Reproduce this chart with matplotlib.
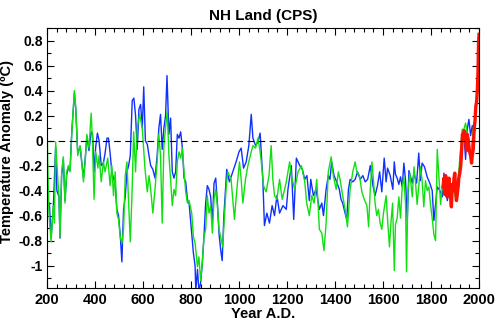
import matplotlib
matplotlib.use('Agg')
import matplotlib.pyplot as plt
from matplotlib.ticker import MultipleLocator, FuncFormatter

# green reconstruction
green_years = [200, 203, 208, 217, 226, 231, 236, 245, 250, 254, 261, 268, 275, 282, 289, 296,
               303, 314, 320, 328, 338, 345, 352, 359, 366, 375, 384, 389, 396, 403, 412, 417,
               426, 435, 442, 453, 463, 470, 477, 484, 491, 498, 505, 512, 519, 526, 533, 540,
               547, 554, 561, 569, 576, 586, 597, 608, 618, 625, 632, 641, 650, 659, 666, 673,
               680, 687, 694, 701, 708, 715, 722, 729, 736, 743, 750, 757, 764, 771, 778, 785,
               792, 803, 810, 817, 827, 833, 840, 847, 854, 861, 868, 875, 882, 889, 896, 903,
               910, 917, 932, 946, 953, 967, 981, 991, 1002, 1009, 1016, 1027, 1037, 1047, 1058,
               1069, 1079, 1086, 1093, 1102, 1113, 1125, 1134, 1141, 1148, 1158, 1169, 1180,
               1190, 1197, 1211, 1218, 1232, 1246, 1260, 1274, 1282, 1293, 1303, 1313, 1324,
               1335, 1345, 1354, 1363, 1372, 1384, 1393, 1405, 1414, 1421, 1432, 1442, 1452,
               1463, 1474, 1484, 1491, 1502, 1512, 1522, 1533, 1540, 1547, 1554, 1560, 1567,
               1574, 1581, 1588, 1595, 1602, 1613, 1620, 1627, 1633, 1640, 1647, 1652, 1659,
               1666, 1673, 1680, 1687, 1694, 1698, 1704, 1712, 1722, 1729, 1735, 1742, 1749,
               1756, 1763, 1770, 1777, 1784, 1791, 1798, 1805, 1812, 1819, 1826, 1833, 1840,
               1847, 1854, 1861, 1868, 1875, 1882, 1889, 1896, 1903, 1910, 1916, 1923, 1930,
               1937, 1944, 1951, 1958, 1965, 1972, 1979, 1986]
green_vals = [0.20, -0.17, -0.58, -0.81, -0.52, -0.66, -0.01, -0.31, -0.44, -0.77, -0.25, -0.13,
              -0.50, -0.25, -0.20, -0.25, 0.05, 0.40, 0.26, -0.12, -0.04, -0.17, -0.33, -0.17,
              0.05, -0.06, 0.22, 0.02, -0.47, -0.09, -0.22, -0.12, -0.33, -0.17, -0.25, -0.14,
              -0.36, -0.20, -0.44, -0.25, -0.58, -0.63, -0.77, -0.82, -0.71, -0.28, -0.17, -0.50,
              -0.81, -0.44, 0.07, -0.25, 0.10, 0.21, 0.10, -0.22, -0.41, -0.28, -0.39, -0.58,
              -0.39, -0.17, 0.05, -0.12, -0.66, -0.04, 0.10, 0.24, -0.12, -0.31, -0.52, -0.39,
              -0.44, -0.17, -0.09, -0.14, -0.06, -0.25, -0.41, -0.50, -0.48, -0.58, -0.77, -0.82,
              -1.01, -0.93, -1.12, -0.98, -0.77, -0.71, -0.44, -0.58, -0.52, -0.74, -0.47, -0.39,
              -0.52, -0.71, -0.85, -0.39, -0.25, -0.31, -0.63, -0.39, -0.17, -0.31, -0.50, -0.31,
              -0.20, -0.12, -0.04, -0.06, 0.02, -0.06, -0.17, -0.36, -0.41, -0.28, -0.04, -0.31,
              -0.44, -0.47, -0.31, -0.47, -0.39, -0.33, -0.17, -0.28, -0.39, -0.25, -0.20, -0.33,
              -0.50, -0.60, -0.44, -0.50, -0.31, -0.71, -0.74, -0.88, -0.66, -0.25, -0.13, -0.28,
              -0.39, -0.25, -0.31, -0.44, -0.55, -0.69, -0.39, -0.25, -0.17, -0.25, -0.28, -0.41,
              -0.47, -0.52, -0.69, -0.39, -0.17, -0.31, -0.50, -0.60, -0.55, -0.66, -0.71, -0.58,
              -0.44, -0.66, -0.85, -0.66, -0.50, -1.04, -0.67, -0.62, -0.45, -0.62, -0.37, -0.29,
              -0.51, -1.05, -0.40, -0.26, -0.45, -0.21, -0.32, -0.51, -0.37, -0.21, -0.32, -0.53,
              -0.32, -0.40, -0.37, -0.51, -0.62, -0.75, -0.80, -0.07, -0.29, -0.51, -0.37, -0.29,
              -0.45, -0.37, -0.40, -0.51, -0.40, -0.37, -0.48, -0.40, -0.24, -0.07, 0.09, 0.09,
              0.14, 0.06, -0.05, -0.13, 0.01, 0.14, 0.08]

# blue reconstruction
blue_years = [210, 217, 226, 236, 241, 250, 254, 261, 268, 275, 282, 289, 296, 303, 314, 320,
              328, 338, 345, 352, 359, 366, 375, 384, 390, 396, 403, 410, 417, 426, 435, 442,
              450, 456, 463, 470, 477, 484, 491, 498, 505, 512, 519, 526, 533, 540, 547, 555,
              562, 569, 576, 583, 590, 597, 603, 610, 618, 625, 632, 641, 650, 659, 666, 673,
              680, 687, 694, 700, 708, 715, 722, 729, 736, 743, 750, 757, 764, 771, 778, 785,
              792, 803, 810, 817, 820, 827, 833, 840, 847, 854, 861, 868, 875, 882, 889, 896,
              903, 910, 917, 924, 930, 937, 949, 960, 974, 988, 1000, 1009, 1019, 1030, 1041,
              1051, 1058, 1069, 1079, 1088, 1099, 1106, 1116, 1127, 1138, 1148, 1158, 1169,
              1183, 1197, 1204, 1218, 1228, 1239, 1253, 1264, 1274, 1283, 1293, 1299, 1310,
              1321, 1335, 1345, 1352, 1363, 1372, 1379, 1386, 1396, 1407, 1418, 1425, 1432,
              1442, 1449, 1456, 1463, 1474, 1484, 1494, 1505, 1516, 1526, 1536, 1547, 1558,
              1567, 1577, 1586, 1595, 1605, 1613, 1619, 1630, 1641, 1647, 1652, 1659, 1666,
              1673, 1680, 1687, 1694, 1701, 1708, 1715, 1722, 1729, 1740, 1749, 1756, 1763,
              1773, 1784, 1795, 1805, 1812, 1819, 1826, 1837, 1847, 1854, 1861, 1868, 1875,
              1885, 1893, 1901, 1910, 1916, 1923, 1930, 1937, 1944, 1951, 1958, 1965, 1972,
              1979, 1984]
blue_vals = [-0.50, -0.78, -0.55, -0.05, -0.40, -0.45, -0.78, -0.28, -0.15, -0.48, -0.27, -0.22,
             -0.24, 0.06, 0.38, 0.25, -0.10, -0.05, -0.18, -0.30, -0.15, 0.03, -0.08, 0.07,
             0.05, -0.25, -0.05, 0.06, 0.00, -0.20, -0.18, -0.10, 0.02, 0.02, -0.10, -0.25,
             -0.30, -0.35, -0.55, -0.60, -0.75, -0.97, -0.55, -0.45, -0.25, -0.20, -0.12, 0.32,
             0.34, 0.20, -0.07, 0.25, 0.29, 0.10, 0.43, 0.00, -0.03, -0.12, -0.20, -0.23,
             -0.30, -0.12, 0.10, 0.21, -0.07, 0.10, 0.20, 0.52, 0.05, 0.18, -0.25, -0.30,
             -0.25, 0.05, 0.02, 0.07, -0.06, -0.30, -0.33, -0.47, -0.50, -0.75, -0.90, -1.00,
             -1.20, -1.03, -1.20, -1.14, -0.98, -0.77, -0.50, -0.36, -0.39, -0.45, -0.66, -0.34,
             -0.30, -0.50, -0.75, -0.88, -0.96, -0.60, -0.23, -0.33, -0.25, -0.17, -0.09, -0.06,
             -0.22, -0.17, -0.04, 0.21, 0.02, -0.04, -0.01, 0.06, -0.30, -0.68, -0.58, -0.66,
             -0.52, -0.60, -0.44, -0.58, -0.52, -0.55, -0.39, -0.20, -0.63, -0.14, -0.20, -0.23,
             -0.31, -0.28, -0.48, -0.31, -0.44, -0.39, -0.55, -0.50, -0.60, -0.39, -0.28, -0.31,
             -0.17, -0.28, -0.33, -0.39, -0.47, -0.50, -0.58, -0.63, -0.39, -0.31, -0.33, -0.31,
             -0.25, -0.31, -0.28, -0.33, -0.31, -0.20, -0.36, -0.44, -0.36, -0.25, -0.41, -0.14,
             -0.33, -0.22, -0.28, -0.39, -0.17, -0.27, -0.30, -0.35, -0.29, -0.37, -0.18, -0.32,
             -0.64, -0.24, -0.29, -0.34, -0.26, -0.34, -0.10, -0.32, -0.18, -0.21, -0.29, -0.34,
             -0.40, -0.64, -0.51, -0.37, -0.40, -0.45, -0.26, -0.37, -0.48, -0.40, -0.45, -0.37,
             -0.43, -0.45, -0.34, -0.18, -0.02, 0.06, -0.15, 0.09, 0.17, 0.04, 0.12, 0.06, 0.18]

# instrumental (red)
red_years = [1850, 1854, 1857, 1861, 1864, 1868, 1871, 1875, 1878, 1882, 1885, 1889, 1892, 1896,
             1899, 1903, 1906, 1910, 1913, 1916, 1920, 1924, 1927, 1931, 1934, 1938, 1941, 1945,
             1948, 1951, 1955, 1958, 1962, 1965, 1969, 1972, 1976, 1980, 1983, 1987, 1990, 1993,
             1996, 1998, 2000]
red_vals = [-0.37, -0.30, -0.43, -0.28, -0.35, -0.45, -0.40, -0.30, -0.37, -0.45, -0.53, -0.35,
            -0.40, -0.30, -0.26, -0.40, -0.48, -0.42, -0.37, -0.30, -0.26, -0.20, -0.10, 0.05,
            0.01, 0.08, 0.06, -0.02, -0.08, 0.05, 0.01, -0.05, -0.10, -0.12, -0.18, -0.12,
            -0.07, 0.10, 0.15, 0.28, 0.31, 0.40, 0.56, 0.77, 0.85]

plt.rcParams['font.family'] = ['Liberation Sans', 'DejaVu Sans']
plt.rcParams['font.weight'] = 'bold'
plt.rcParams['font.size'] = 10

fig = plt.figure(figsize=(5, 3.23), dpi=100)
ax = fig.add_axes([0.094, 0.108, 0.864, 0.805])

ax.plot(blue_years, blue_vals, color='#1030ff', lw=1.0)
ax.plot(green_years, green_vals, color='#10e010', lw=1.0)
ax.plot(red_years, red_vals, color='#ff1000', lw=2.4)
ax.axhline(0, color='black', lw=0.8, ls=(0, (6, 4)))

ax.set_xlim(200, 2000)
ax.set_ylim(-1.18, 0.9)
ax.xaxis.set_major_locator(MultipleLocator(200))
ax.xaxis.set_minor_locator(MultipleLocator(40))
ax.yaxis.set_major_locator(MultipleLocator(0.2))
ax.yaxis.set_minor_locator(MultipleLocator(0.1))
ax.yaxis.set_major_formatter(FuncFormatter(lambda v, p: '%g' % round(v, 2)))
ax.tick_params(which='both', direction='in', top=True, right=True, width=0.8, labelsize=10.5)
ax.tick_params(axis='y', labelsize=10, pad=3)
ax.tick_params(which='major', length=5)
ax.tick_params(which='minor', length=3)
for s in ax.spines.values():
    s.set_linewidth(0.8)

ax.set_title('NH Land (CPS)', fontweight='bold', fontsize=11, pad=6)
ax.set_xlabel('Year A.D.', fontweight='bold', fontsize=10.5, labelpad=0)
fig.text(0.014, 0.53, 'Temperature Anomaly (\u00baC)', rotation=90, fontweight='bold',
         fontsize=10.5, ha='center', va='center')

fig.savefig('out.png', dpi=100)
